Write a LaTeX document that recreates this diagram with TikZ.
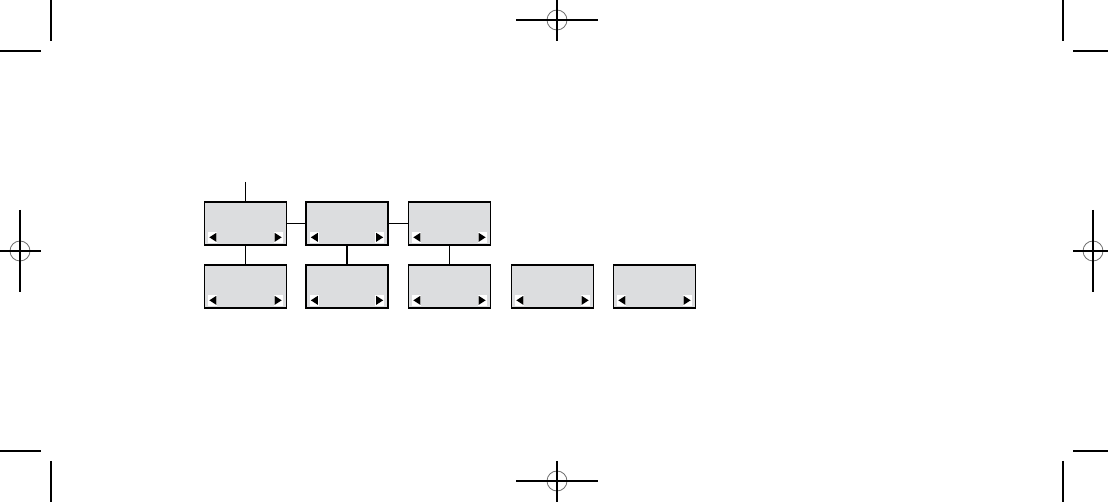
\documentclass[tikz,border=0pt]{standalone}
\usetikzlibrary{calc}
\definecolor{boxgray}{HTML}{DCDDDF}
\definecolor{reggray}{HTML}{707070}
\begin{document}
\begin{tikzpicture}[x=0.75pt,y=-0.75pt,
  menubox/.style={draw=black,fill=boxgray,line width=1pt,minimum width=61.5pt,minimum height=32.25pt,inner sep=0pt},
  conn/.style={draw=black,line width=0.9pt},
  crop/.style={draw=black,line width=0.8pt},
  reg/.style={draw=reggray,line width=0.6pt}]
\useasboundingbox (0,0) rectangle (1108,502);
% crop marks
\draw[crop] (51,0) -- (51,41);
\draw[crop] (0,51) -- (41,51);
\draw[crop] (1063,0) -- (1063,41);
\draw[crop] (1073,51) -- (1108,51);
\draw[crop] (0,451) -- (41,451);
\draw[crop] (51,461) -- (51,502);
\draw[crop] (1073,451) -- (1108,451);
\draw[crop] (1063,461) -- (1063,502);
% registration marks
\draw[reg] (557,20) circle (10);
\draw[crop] (516,20) -- (598,20);
\draw[crop] (557,0) -- (557,41);
\draw[reg] (557,481) circle (10);
\draw[crop] (516,481) -- (598,481);
\draw[crop] (557,461) -- (557,502);
\draw[reg] (20,251) circle (10);
\draw[crop] (0,251) -- (41,251);
\draw[crop] (20,210) -- (20,292);
\draw[reg] (1093,251) circle (10);
\draw[crop] (1073,251) -- (1108,251);
\draw[crop] (1093,210) -- (1093,292);
% boxes
\node[menubox] (t1) at (245.5,223.5) {};
\node[menubox] (t2) at (347,223.5) {};
\node[menubox] (t3) at (449.5,223.5) {};
\node[menubox] (u1) at (245.5,286.5) {};
\node[menubox] (u2) at (347,286.5) {};
\node[menubox] (u3) at (449.5,286.5) {};
\node[menubox] (u4) at (552.5,286.5) {};
\node[menubox] (u5) at (654.5,286.5) {};
\coordinate (top) at (245.5,182);
% connectors
\draw[conn] (top) -- (t1.north);
\draw[conn] (t1.east) -- (t2.west);
\draw[conn] (t2.east) -- (t3.west);
\draw[conn] (t1.south) -- (u1.north);
\draw[conn] (t2.south) -- (u2.north);
\draw[conn] (t3.south) -- (u3.north);
% arrow glyphs
\foreach \n in {t1,t2,t3,u1,u2,u3,u4,u5}{
  \fill[white] ($(\n.north west)+(4.5,30.5)$) rectangle ($(\n.north west)+(13.5,41.5)$);
  \fill[black] ($(\n.north west)+(5.5,36)$) -- ($(\n.north west)+(12.5,31.5)$) -- ($(\n.north west)+(12.5,40.5)$) -- cycle;
  \fill[white] ($(\n.north east)+(-13.5,30.5)$) rectangle ($(\n.north east)+(-4.5,41.5)$);
  \fill[black] ($(\n.north east)+(-5.5,36)$) -- ($(\n.north east)+(-12.5,31.5)$) -- ($(\n.north east)+(-12.5,40.5)$) -- cycle;
}
\end{tikzpicture}
\end{document}
